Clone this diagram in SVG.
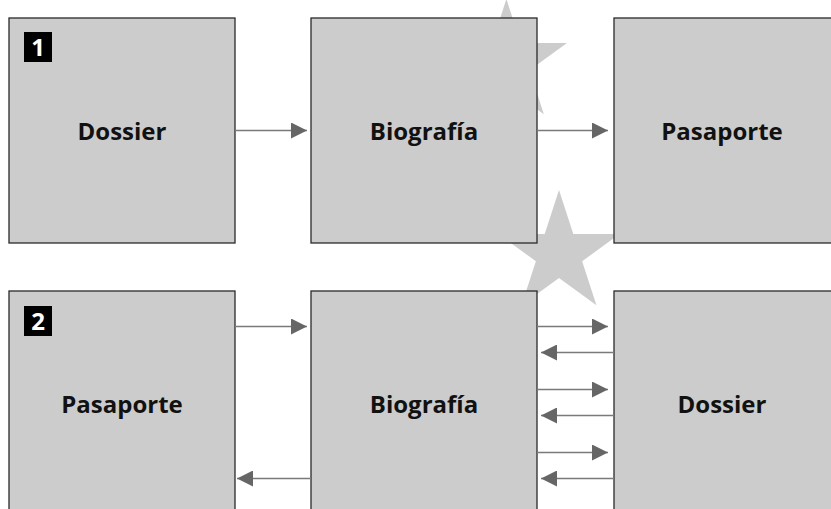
<svg xmlns="http://www.w3.org/2000/svg" width="831" height="509" viewBox="0 0 831 509">
<style>
.box{fill:#cccccc;stroke:#2a2a2a;stroke-width:1.3}
.lbl{font-family:"Open Sans","Noto Sans",sans-serif;font-weight:700;font-size:24px;fill:#111;text-anchor:middle}
.badge{fill:#000}
.num{font-family:"Open Sans","Noto Sans",sans-serif;font-weight:700;font-size:24px;fill:#fff;text-anchor:middle}
.con{stroke:#7a7a7a;stroke-width:1.6;fill:none;marker-end:url(#ah)}
.star{fill:#cccccc}
</style>
<defs>
<marker id="ah" markerUnits="userSpaceOnUse" markerWidth="16" markerHeight="16" viewBox="0 0 15 15" refX="15" refY="7.5" orient="auto">
<path d="M0,0 L15,7.5 L0,15 Z" fill="#666666"/>
</marker>
<path id="starshape" d="M0,-63.7 L14.3,-19.68 L60.58,-19.68 L23.14,7.52 L37.44,51.53 L0,24.33 L-37.44,51.53 L-23.14,7.52 L-60.58,-19.68 L-14.3,-19.68 Z"/>
</defs>
<rect width="831" height="509" fill="#ffffff"/>
<g id="stars">
<use href="#starshape" class="star" transform="translate(506.4,62.7)"/>
<use href="#starshape" class="star" transform="translate(559,253.7)"/>
</g>
<g id="node-dossier-1">
<rect class="box" x="9" y="18" width="226" height="225"/>
<rect class="badge" x="24" y="32" width="28" height="30"/>
<text class="num" x="38" y="55.5">1</text>
<text class="lbl" x="122" y="139.5">Dossier</text>
</g>
<g id="node-biografia-1">
<rect class="box" x="311" y="18" width="226" height="225"/>
<text class="lbl" x="424" y="139.5">Biografía</text>
</g>
<g id="node-pasaporte-1">
<rect class="box" x="614" y="18" width="226" height="225"/>
<text class="lbl" x="722" y="139.5">Pasaporte</text>
</g>
<g id="node-pasaporte-2">
<rect class="box" x="9" y="291" width="226" height="225"/>
<rect class="badge" x="24" y="306" width="28" height="30"/>
<text class="num" x="38" y="329.5">2</text>
<text class="lbl" x="122" y="412.5">Pasaporte</text>
</g>
<g id="node-biografia-2">
<rect class="box" x="311" y="291" width="226" height="225"/>
<text class="lbl" x="424" y="412.5">Biografía</text>
</g>
<g id="node-dossier-2">
<rect class="box" x="614" y="291" width="226" height="225"/>
<text class="lbl" x="722" y="412.5">Dossier</text>
</g>
<g id="connectors">
<line class="con" x1="235" y1="130.5" x2="307" y2="130.5"/>
<line class="con" x1="537" y1="130.5" x2="608" y2="130.5"/>
<line class="con" x1="235" y1="326.5" x2="307" y2="326.5"/>
<line class="con" x1="311" y1="478.5" x2="237" y2="478.5"/>
<line class="con" x1="537" y1="326.5" x2="608" y2="326.5"/>
<line class="con" x1="614" y1="352.5" x2="541" y2="352.5"/>
<line class="con" x1="537" y1="389.5" x2="608" y2="389.5"/>
<line class="con" x1="614" y1="415.5" x2="541" y2="415.5"/>
<line class="con" x1="537" y1="452.5" x2="608" y2="452.5"/>
<line class="con" x1="614" y1="478.5" x2="541" y2="478.5"/>
</g>
</svg>
